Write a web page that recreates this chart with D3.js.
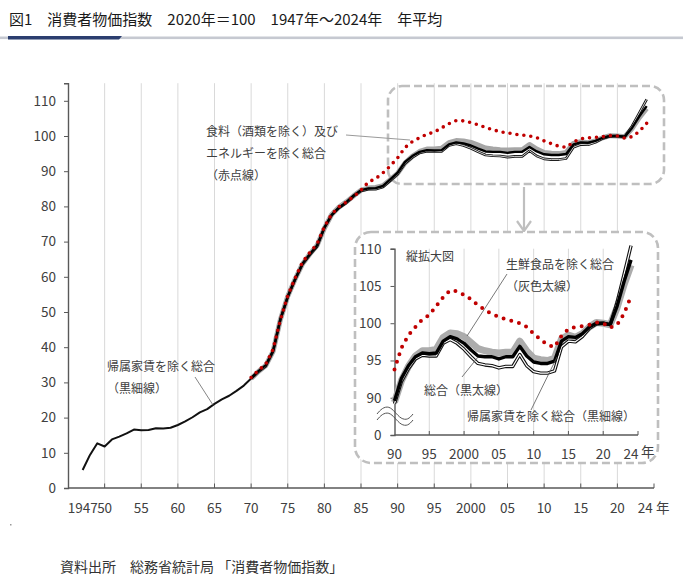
<!DOCTYPE html>
<html><head><meta charset="utf-8">
<script src="https://cdn.jsdelivr.net/npm/d3@7"></script>
<style>
html,body{margin:0;padding:0;background:#fff;}
svg{display:block;font-family:'Noto Sans CJK JP','Noto Sans',sans-serif;}
</style></head>
<body>
<svg id="chart" width="683" height="580"></svg>
<script>
// ---------------- data ----------------
const title = "図1　消費者物価指数　2020年＝100　1947年～2024年　年平均";
const sourceText = "資料出所　総務省統計局 「消費者物価指数」";

// 帰属家賃を除く総合 (黒細線) 1947-2024
const exRentStart = 1947;
const exRentValues = [
  5.1, 9.4, 12.7, 11.8, 13.8, 14.6, 15.5, 16.6, 16.4, 16.5,
  17.0, 16.9, 17.1, 17.9, 18.9, 20.1, 21.5, 22.4, 23.9, 25.2,
  26.2, 27.6, 29.1,
  31.1, 33.0, 34.6, 38.8, 47.9, 54.3, 59.2, 63.5, 66.2, 68.6,
  73.9, 77.5, 79.6, 81.0, 82.9, 84.4, 84.9, 84.9, 85.5, 87.3,
  89.2, 92.2, 93.9, 95.2, 95.7, 95.6, 95.6, 97.3, 97.8, 97.3,
  96.5, 95.5, 94.6, 94.4, 94.3, 94.0, 94.2, 94.2, 95.8, 94.3,
  93.5, 93.3, 93.3, 93.6, 96.8, 97.6, 97.5, 98.2, 99.3, 99.9,
  100.0, 99.8, 102.8, 106.6, 110.4
];
// 総合 (黒太線) 1970-2024
const seriesStart = 1970;
const totalValues = [
  31.3, 33.2, 34.9, 39.0, 48.0, 54.4, 59.3, 63.7, 66.4, 68.9,
  74.0, 77.6, 79.7, 81.2, 83.1, 84.6, 85.1, 85.2, 85.8, 87.7,
  89.6, 92.6, 94.3, 95.5, 96.0, 95.9, 96.0, 97.6, 98.2, 97.9,
  97.3, 96.4, 95.6, 95.5, 95.5, 95.2, 95.5, 95.5, 96.9, 95.6,
  94.8, 94.6, 94.6, 94.9, 97.6, 98.2, 98.1, 98.6, 99.5, 100.0,
  100.0, 99.8, 102.3, 105.6, 108.5
];
// 生鮮食品を除く総合 (灰色太線) 1970-2024
const exFreshValues = [
  31.1, 33.1, 34.8, 38.8, 47.9, 54.5, 59.3, 63.6, 66.4, 68.9,
  73.8, 77.7, 79.8, 81.3, 83.0, 84.6, 85.2, 85.4, 85.9, 87.6,
  89.4, 92.3, 94.2, 95.6, 96.3, 96.3, 96.5, 98.1, 98.7, 98.6,
  98.2, 97.4, 96.6, 96.3, 96.1, 96.0, 96.1, 96.1, 97.6, 96.3,
  95.3, 95.1, 95.0, 95.3, 97.9, 98.4, 98.1, 98.6, 99.5, 100.1,
  100.0, 99.8, 102.1, 105.2, 107.8
];
// 食料（酒類を除く）及びエネルギーを除く総合 (赤点線) 1970-2024
const coreCoreValues = [
  31.4, 33.4, 35.2, 39.4, 47.8, 54.6, 59.6, 64.1, 66.9, 69.3,
  74.2, 77.8, 79.9, 81.2, 82.8, 84.6, 86.9, 87.9, 89.5, 91.5,
  93.8, 96.7, 98.4, 99.5, 100.5, 101.1, 102.3, 103.5, 104.4, 104.3,
  103.8, 103.2, 102.4, 101.8, 101.2, 100.9, 100.5, 100.3, 100.0, 99.5,
  98.6, 97.8, 97.1, 96.8, 98.3, 99.2, 99.5, 99.6, 99.8, 100.1,
  100.0, 99.4, 99.8, 101.3, 103.6
];

const mainYTicks = [0,10,20,30,40,50,60,70,80,90,100,110];
const mainXTickYears = [1950,1955,1960,1965,1970,1975,1980,1985,1990,1995,2000,2005,2010,2015,2020,2025];
const mainXLabelYears = [1947,1950,1955,1960,1965,1970,1975,1980,1985,1990,1995,2000,2005,2010,2015,2020,2024];
const mainXLabels = ["1947","50","55","60","65","70","75","80","85","90","95","2000","05","10","15","20","24"];
const insetYTicks = [85,90,95,100,105,110];
const insetYLabels = ["0","90","95","100","105","110"];
const insetXTickYears = [1995,2000,2005,2010,2015,2020,2025];
const insetXLabelYears = [1990,1995,2000,2005,2010,2015,2020,2024];
const insetXLabels = ["90","95","2000","05","10","15","20","24"];

// ---------------- build ----------------
const toPts = (start, vals) => vals.map((v,i)=>({year:start+i, value:v}));
const exRent = toPts(exRentStart, exRentValues);
const total = toPts(seriesStart, totalValues);
const exFresh = toPts(seriesStart, exFreshValues);
const coreCore = toPts(seriesStart, coreCoreValues);

const svg = d3.select("#chart");
const txt = "#404040";

// Title
svg.append("text").attr("x",9).attr("y",20).attr("dy",".35em")
  .attr("font-size",15).attr("fill","#1a1a1a").text(title);
svg.append("rect").attr("x",0).attr("y",36.5).attr("width",683).attr("height",2.6).attr("fill","#c6c9d1");
svg.append("path").attr("d","M8,36 L122,36 L119,39.4 L8,39.4 Z").attr("fill","#2b3e6f");

// ---------------- main chart ----------------
const x = d3.scaleLinear().domain([1945,2025]).range([68,654]);
const y = d3.scaleLinear().domain([0,115]).range([488,83.2]);

// gridlines
svg.append("g").selectAll("line").data(mainXTickYears.filter(d=>d<2025)).join("line")
  .attr("x1",d=>x(d)).attr("x2",d=>x(d)).attr("y1",y(115)).attr("y2",y(0))
  .attr("stroke","#d9d9d9").attr("stroke-width",1);

// y axis
const yAxis = d3.axisLeft(y).tickValues(mainYTicks).tickSize(4).tickPadding(8);
const gy = svg.append("g").attr("transform","translate(68,0)").call(yAxis);
gy.select(".domain").attr("stroke","#595959").attr("stroke-width",1.4);
gy.selectAll(".tick line").attr("stroke","#595959");
gy.selectAll(".tick text").attr("font-size",13.5).attr("fill",txt).attr("font-family","'Noto Sans CJK JP',sans-serif");

// x axis
svg.append("line").attr("x1",x(1945)).attr("x2",x(2025)).attr("y1",y(0)).attr("y2",y(0))
  .attr("stroke","#595959").attr("stroke-width",1.4);
svg.append("g").selectAll("line").data(mainXTickYears).join("line")
  .attr("x1",d=>x(d)).attr("x2",d=>x(d)).attr("y1",y(0)).attr("y2",y(0)-4.5)
  .attr("stroke","#595959").attr("stroke-width",1);
svg.append("g").selectAll("text").data(mainXLabelYears).join("text")
  .attr("x",(d,i)=>x(d)+(d===2024?-1.5:0)).attr("y",508).attr("dy",".35em")
  .attr("text-anchor","middle").attr("font-size",13.5).attr("fill",txt)
  .text((d,i)=>mainXLabels[i]);
svg.append("text").attr("x",656).attr("y",508).attr("dy",".35em")
  .attr("font-size",13.5).attr("fill",txt).text("年");

// dashed highlight box on main chart
svg.append("rect").attr("x",388).attr("y",86).attr("width",276).attr("height",98)
  .attr("rx",14).attr("fill","none").attr("stroke","#bfbfbf").attr("stroke-width",2.6)
  .attr("stroke-dasharray","8,4");

const lineMain = d3.line().x(d=>x(d.year)).y(d=>y(d.value));

function drawSeries(g, line, opts){
  g.append("path").datum(exFresh).attr("d",line).attr("fill","none")
    .attr("stroke","#a6a6a6").attr("stroke-width",opts.gray).attr("stroke-linejoin","round");
  // thin line: solid before 1970, double-looking after
  const early = exRent.filter(d=>d.year<=1970);
  const late = exRent.filter(d=>d.year>=1970);
  if (opts.early) {
    g.append("path").datum(early).attr("d",line).attr("fill","none")
      .attr("stroke","#111").attr("stroke-width",2).attr("stroke-linejoin","round");
  }
  g.append("path").datum(late).attr("d",line).attr("fill","none")
    .attr("stroke","#111").attr("stroke-width",opts.thinOuter).attr("stroke-linejoin","round");
  g.append("path").datum(late).attr("d",line).attr("fill","none")
    .attr("stroke","#fff").attr("stroke-width",opts.thinInner).attr("stroke-linejoin","round");
  g.append("path").datum(total).attr("d",line).attr("fill","none")
    .attr("stroke","#000").attr("stroke-width",opts.black).attr("stroke-linejoin","round");
  g.append("path").datum(coreCore).attr("d",line).attr("fill","none")
    .attr("stroke","#c00000").attr("stroke-width",opts.dot).attr("stroke-linecap","round")
    .attr("stroke-dasharray",opts.dash);
}
drawSeries(svg.append("g"), lineMain, {gray:5, thinOuter:2.6, thinInner:0.8, black:2.4, dot:3.6, dash:"0,7", early:true});

// main annotations
const ann = svg.append("g").attr("font-size",12).attr("fill",txt);
ann.append("text").attr("x",206).attr("y",131.5).attr("dy",".35em").text("食料（酒類を除く）及び");
ann.append("text").attr("x",206).attr("y",153.5).attr("dy",".35em").text("エネルギーを除く総合");
ann.append("text").attr("x",206).attr("y",175.5).attr("dy",".35em").text("（赤点線）");
ann.append("text").attr("x",107).attr("y",367).attr("dy",".35em").text("帰属家賃を除く総合");
ann.append("text").attr("x",107).attr("y",389).attr("dy",".35em").text("（黒細線）");
svg.append("line").attr("x1",346).attr("y1",135).attr("x2",410).attr("y2",140)
  .attr("stroke","#9a9a9a").attr("stroke-width",1);
svg.append("line").attr("x1",195).attr("y1",377).attr("x2",213).attr("y2",405)
  .attr("stroke","#666").attr("stroke-width",0.8);

// arrow
svg.append("line").attr("x1",524).attr("y1",187).attr("x2",524).attr("y2",231)
  .attr("stroke","#bfbfbf").attr("stroke-width",2.2);
svg.append("polyline").attr("points","517,221 524,231 531,221").attr("fill","none")
  .attr("stroke","#bfbfbf").attr("stroke-width",2.2);

// ---------------- inset ----------------
svg.append("rect").attr("x",355).attr("y",232).attr("width",303).attr("height",231)
  .attr("rx",16).attr("fill","#fff").attr("stroke","#bfbfbf").attr("stroke-width",2.6)
  .attr("stroke-dasharray","8,4");

const xi = d3.scaleLinear().domain([1990,2025]).range([394.5,638]);
const yi = d3.scaleLinear().domain([85,110]).range([435,248.7]);

svg.append("g").selectAll("line").data(insetXTickYears.filter(d=>d<2025)).join("line")
  .attr("x1",d=>xi(d)).attr("x2",d=>xi(d)).attr("y1",yi(110)).attr("y2",yi(85))
  .attr("stroke","#d9d9d9").attr("stroke-width",1);

const yAxisI = d3.axisLeft(yi).tickValues(insetYTicks).tickSize(4).tickPadding(9)
  .tickFormat((d,i)=>insetYLabels[i]);
const gyi = svg.append("g").attr("transform",`translate(${xi(1990)},0)`).call(yAxisI);
gyi.select(".domain").attr("stroke","#595959").attr("stroke-width",1.4);
gyi.selectAll(".tick line").attr("stroke","#595959");
gyi.selectAll(".tick text").attr("font-size",13.5).attr("fill",txt).attr("font-family","'Noto Sans CJK JP',sans-serif");

svg.append("line").attr("x1",xi(1990)).attr("x2",xi(2025)).attr("y1",yi(85)).attr("y2",yi(85))
  .attr("stroke","#595959").attr("stroke-width",1.4);
svg.append("g").selectAll("line").data(insetXTickYears).join("line")
  .attr("x1",d=>xi(d)).attr("x2",d=>xi(d)).attr("y1",yi(85)).attr("y2",yi(85)-4)
  .attr("stroke","#595959").attr("stroke-width",1);
svg.append("g").selectAll("text").data(insetXLabelYears).join("text")
  .attr("x",d=>xi(d)).attr("y",454).attr("dy",".35em").attr("text-anchor","middle")
  .attr("font-size",13.5).attr("fill",txt).text((d,i)=>insetXLabels[i]);
svg.append("text").attr("x",641).attr("y",452).attr("dy",".35em")
  .attr("font-size",13.5).attr("fill",txt).text("年");

// break marks
const wave = d3.line().curve(d3.curveBasis);
const wavePts = [[377,416],[382,410],[389,408],[395,414],[401,421],[408,422],[413,416]];
[0,6].forEach(off=>{
  svg.append("path").attr("d",wave(wavePts.map(p=>[p[0],p[1]+off-2])))
    .attr("fill","none").attr("stroke","#555").attr("stroke-width",1);
});

const lineInset = d3.line().x(d=>xi(d.year)).y(d=>yi(d.value));
const gi = svg.append("g");
const sub = (arr)=>arr.filter(d=>d.year>=1990);
// draw inset series
gi.append("path").datum(sub(exFresh)).attr("d",lineInset).attr("fill","none")
  .attr("stroke","#acacac").attr("stroke-width",7).attr("stroke-linejoin","round");
gi.append("path").datum(sub(exRent)).attr("d",lineInset).attr("fill","none")
  .attr("stroke","#111").attr("stroke-width",3.4).attr("stroke-linejoin","round");
gi.append("path").datum(sub(exRent)).attr("d",lineInset).attr("fill","none")
  .attr("stroke","#fff").attr("stroke-width",1.2).attr("stroke-linejoin","round");
gi.append("path").datum(sub(total)).attr("d",lineInset).attr("fill","none")
  .attr("stroke","#000").attr("stroke-width",3.4).attr("stroke-linejoin","round");
gi.append("path").datum(sub(coreCore)).attr("d",lineInset).attr("fill","none")
  .attr("stroke","#c00000").attr("stroke-width",4).attr("stroke-linecap","round")
  .attr("stroke-dasharray","0,8");

// inset annotations
const ia = svg.append("g").attr("font-size",12).attr("fill",txt);
ia.append("text").attr("x",406).attr("y",257).attr("dy",".35em").text("縦拡大図");
ia.append("text").attr("x",506).attr("y",265).attr("dy",".35em").text("生鮮食品を除く総合");
ia.append("text").attr("x",506).attr("y",287).attr("dy",".35em").text("（灰色太線）");
ia.append("text").attr("x",424).attr("y",391).attr("dy",".35em").text("総合（黒太線）");
ia.append("text").attr("x",467).attr("y",417).attr("dy",".35em").text("帰属家賃を除く総合（黒細線）");
[[507,274,467,336],[462,377,478,357],[531,410,557,357]].forEach(l=>{
  svg.append("line").attr("x1",l[0]).attr("y1",l[1]).attr("x2",l[2]).attr("y2",l[3])
    .attr("stroke","#555").attr("stroke-width",0.8);
});

// source
svg.append("rect").attr("x",10).attr("y",524).attr("width",1.5).attr("height",1.5).attr("fill","#999");
svg.append("text").attr("x",60).attr("y",567).attr("dy",".35em")
  .attr("font-size",14).attr("fill","#333").text(sourceText);
</script>
</body></html>
